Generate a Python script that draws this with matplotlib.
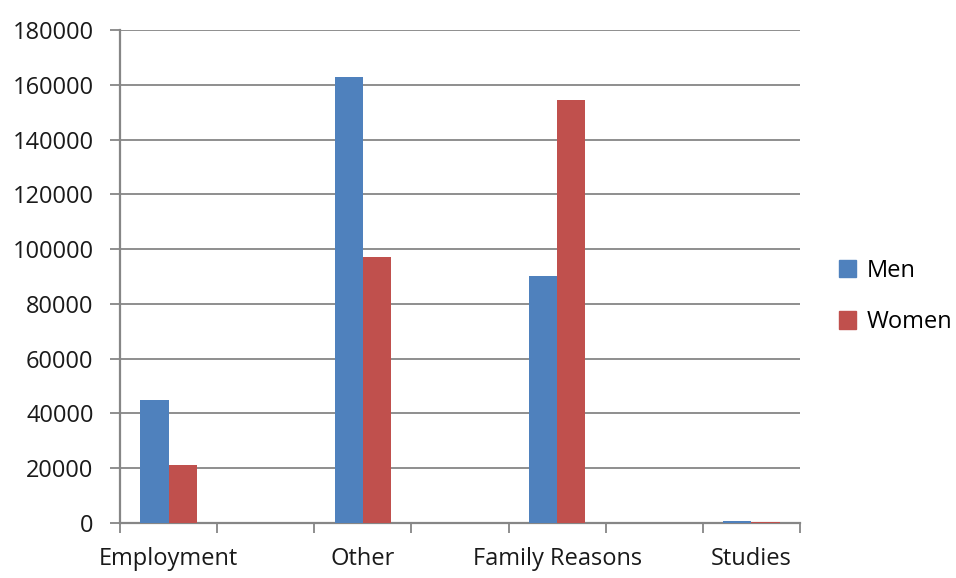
import matplotlib

matplotlib.use("Agg")

import matplotlib.pyplot as plt
import numpy as np
from matplotlib.patches import Patch

categories = ["Employment", "", "Other", "", "Family Reasons", "", "Studies"]
men = [45000, 0, 163000, 0, 90000, 0, 600]
women = [21000, 0, 97000, 0, 154500, 0, 500]
y_ticks = list(range(0, 180001, 20000))

BLUE = "#4F81BD"
RED = "#C0504D"
GREY = "#868686"

plt.rcParams["font.family"] = ["Open Sans", "DejaVu Sans"]

fig = plt.figure(figsize=(9.56, 5.78), dpi=100)
ax = fig.add_axes([0.1255, 0.0952, 0.7113, 0.853])

x = np.arange(len(categories))
width = 0.29
ax.bar(x - width / 2, men, width, color=BLUE, zorder=3)
ax.bar(x + width / 2, women, width, color=RED, zorder=3)

ax.set_xlim(-0.5, len(categories) - 0.5)
ax.set_ylim(0, 180000)
ax.set_yticks(y_ticks)
ax.set_yticklabels([str(v) for v in y_ticks], fontsize=17, color="#1a1a1a")
ax.yaxis.grid(True, color=GREY, linewidth=1.3, zorder=0)

ax.set_xticks(x)
ax.set_xticklabels(categories, fontsize=17, color="#1a1a1a")
ax.tick_params(axis="x", which="major", length=0, pad=17)
ax.set_xticks(np.arange(-0.5, len(categories)), minor=True)
ax.tick_params(axis="x", which="minor", length=7, width=1.3, color=GREY)
ax.tick_params(axis="y", length=7, width=1.3, color=GREY, pad=12)

for side in ("top", "right"):
    ax.spines[side].set_visible(False)
for side in ("left", "bottom"):
    ax.spines[side].set_color(GREY)
    ax.spines[side].set_linewidth(1.6)

handles = [Patch(color=BLUE, label="Men"), Patch(color=RED, label="Women")]
fig.legend(
    handles=handles,
    loc="center left",
    bbox_to_anchor=(0.855, 0.487),
    frameon=False,
    fontsize=17,
    handlelength=0.75,
    handleheight=0.75,
    handletextpad=0.45,
    labelspacing=1.15,
)

fig.savefig("out.png", dpi=100)
